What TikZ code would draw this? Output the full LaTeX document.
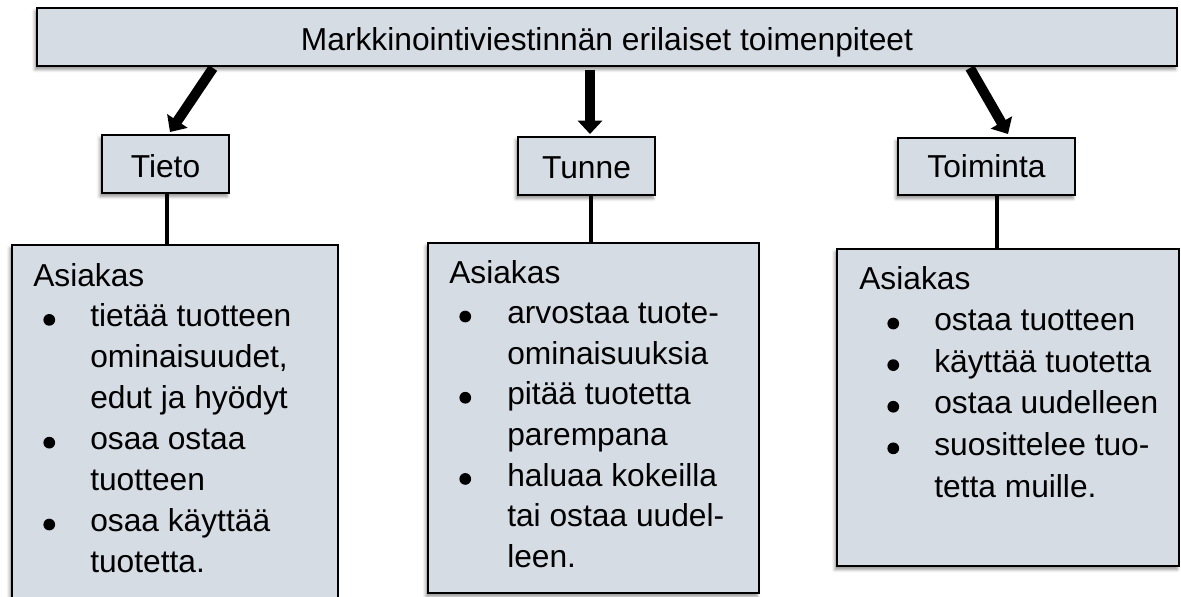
\documentclass[tikz,border=0pt]{standalone}
\usepackage{fontspec}
\setmainfont{Liberation Sans}
\usetikzlibrary{arrows.meta,shadows.blur}
\definecolor{boxfill}{HTML}{D6DCE4}
\newlength\pxu \setlength\pxu{0.75pt}
\newcommand\bul[2]{\makebox[#2\pxu][l]{\hspace*{\dimexpr#1\pxu-4.4pt\relax}\tikz[baseline=0pt]\fill[black] (0pt,5.3pt) circle[radius=4.4pt];}}
\begin{document}
\begin{tikzpicture}[x=0.75pt,y=-0.75pt,
  box/.style={draw=black, line width=1.9pt, fill=boxfill, inner sep=0pt, outer sep=0pt, anchor=north west,
    blur shadow={shadow xshift=-1.5pt, shadow yshift=-2.5pt, shadow blur radius=2.5pt, shadow opacity=45}},
  lbl/.style={font=\fontsize{23.8}{28}\selectfont, inner sep=0pt, anchor=base},
  txt/.style={inner sep=0pt, anchor=base west},
  bigarrow/.style={line width=7.5pt, -{Triangle[width=18pt,length=10pt]}},
  link/.style={line width=2.5pt}
]
\useasboundingbox (0,0) rectangle (1181,596);
% boxes
\node[box, minimum width=1140\pxu, minimum height=58\pxu] (top) at (37,8) {};
\node[lbl] (toptext) at (607,50) {Markkinointiviestinnän erilaiset toimenpiteet};
\node[box, minimum width=127\pxu, minimum height=58\pxu] (tieto) at (102,135) {};
\node[lbl] (tietotext) at (165.5,177) {Tieto};
\node[box, minimum width=137\pxu, minimum height=58\pxu] (tunne) at (518,137) {};
\node[lbl] (tunnetext) at (586.5,178) {Tunne};
\node[box, minimum width=177\pxu, minimum height=57\pxu] (toim) at (898,138) {};
\node[lbl] (toimtext) at (986.5,177) {Toiminta};
\node[box, minimum width=326\pxu, minimum height=360\pxu] (b1) at (12,245) {};
\node[box, minimum width=331\pxu, minimum height=350\pxu] (b2) at (428,243) {};
\node[box, minimum width=342\pxu, minimum height=317\pxu] (b3) at (837,249) {};
% arrows
\coordinate (a1s) at (213,68); \coordinate (a1e) at (170,132);
\coordinate (a2s) at (590,70); \coordinate (a2e) at (590,134);
\coordinate (a3s) at (970,68); \coordinate (a3e) at (1008,134);
\draw[bigarrow] (a1s) -- (a1e);
\draw[bigarrow] (a2s) -- (a2e);
\draw[bigarrow] (a3s) -- (a3e);
% connectors
\coordinate (c1) at (167,0); \coordinate (c2) at (591,0); \coordinate (c3) at (997,0);
\draw[link] (tieto.south -| c1) -- (b1.north -| c1);
\draw[link] (tunne.south -| c2) -- (b2.north -| c2);
\draw[link] (toim.south -| c3) -- (b3.north -| c3);
% texts
\node[txt] (t1) at (33,286) {\fontsize{23.8}{30.7}\selectfont
\begin{tabular}[t]{@{}l@{}l@{}}
\multicolumn{2}{@{}l@{}}{Asiakas}\\
\bul{16}{57} & tietää tuotteen\\
 & ominaisuudet,\\
 & edut ja hyödyt\\
\bul{16}{57} & osaa ostaa\\
 & tuotteen\\
\bul{16}{57} & osaa käyttää\\
 & tuotetta.
\end{tabular}};
\node[txt] (t2) at (449,283) {\fontsize{23.8}{30.45}\selectfont
\begin{tabular}[t]{@{}l@{}l@{}}
\multicolumn{2}{@{}l@{}}{Asiakas}\\
\bul{16}{58} & arvostaa tuote-\\
 & ominaisuuksia\\
\bul{16}{58} & pitää tuotetta\\
 & parempana\\
\bul{16}{58} & haluaa kokeilla\\
 & tai ostaa uudel-\\
 & leen.
\end{tabular}};
\node[txt] (t3) at (859,289) {\fontsize{23.8}{31.2}\selectfont
\begin{tabular}[t]{@{}l@{}l@{}}
\multicolumn{2}{@{}l@{}}{Asiakas}\\
\bul{34}{75} & ostaa tuotteen\\
\bul{34}{75} & käyttää tuotetta\\
\bul{34}{75} & ostaa uudelleen\\
\bul{34}{75} & suosittelee tuo-\\
 & tetta muille.
\end{tabular}};
\end{tikzpicture}
\end{document}
